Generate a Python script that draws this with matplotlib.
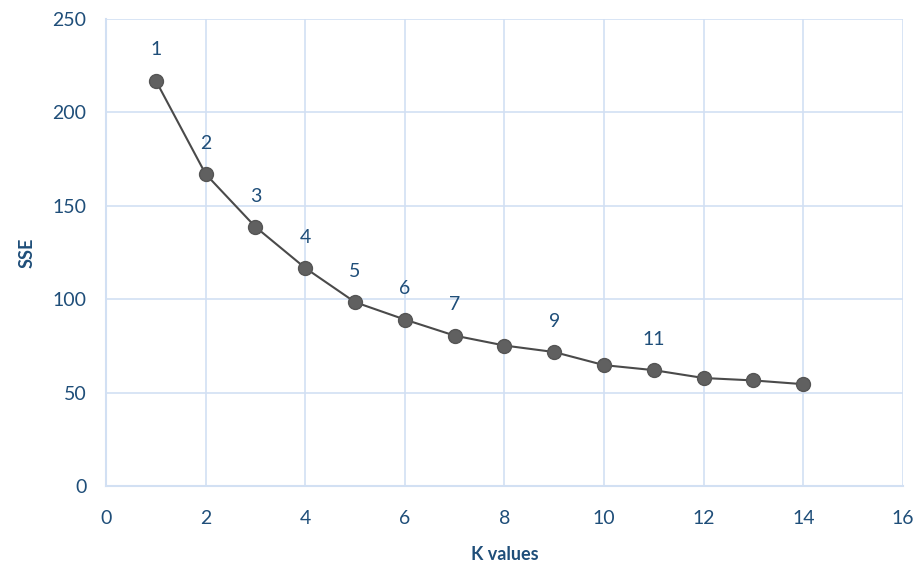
import matplotlib.pyplot as plt

# SSE for each number of clusters K
k_values = [1, 2, 3, 4, 5, 6, 7, 8, 9, 10, 11, 12, 13, 14]
sse = [217, 167, 138.7, 116.7, 98.4, 89.1, 80.5, 75.2, 71.7, 64.7, 62.0, 57.8, 56.5, 54.5]
labelled_k = [1, 2, 3, 4, 5, 6, 7, 9, 11]

x_ticks = [0, 2, 4, 6, 8, 10, 12, 14, 16]
y_ticks = [0, 50, 100, 150, 200, 250]

plt.rcParams['font.family'] = ['Lato', 'DejaVu Sans']
text_col = '#1F4E79'
grid_col = '#D2E0F3'

fig = plt.figure(figsize=(9.18, 5.67), dpi=100)
ax = fig.add_axes([0.1155, 0.1429, 0.868, 0.8236])

ax.plot(k_values, sse, color='#4A4A4A', linewidth=1.5,
        marker='o', markersize=10, markerfacecolor='#606060',
        markeredgecolor='#555555', zorder=3)

# data labels above selected points
for k, s in zip(k_values, sse):
    if k in labelled_k:
        ax.annotate(str(k), (k, s), xytext=(0, 16), textcoords='offset points',
                    ha='center', va='bottom', fontsize=14, color=text_col)

ax.set_xlim(0, 16)
ax.set_ylim(0, 250)
ax.set_xticks(x_ticks)
ax.set_yticks(y_ticks)
ax.grid(True, color=grid_col, linewidth=1.2)
ax.set_axisbelow(True)

for side in ['top', 'right']:
    ax.spines[side].set_visible(False)
for side in ['left', 'bottom']:
    ax.spines[side].set_color(grid_col)
    ax.spines[side].set_linewidth(1.5)

ax.tick_params(length=0, labelsize=14, colors=text_col)
ax.tick_params(axis='x', pad=17)
ax.tick_params(axis='y', pad=14)

ax.set_xlabel('K values', fontsize=13, fontweight='bold', color=text_col, labelpad=14)
ax.set_ylabel('SSE', fontsize=13, fontweight='bold', color=text_col, labelpad=12)

fig.savefig('out.png', dpi=100)
